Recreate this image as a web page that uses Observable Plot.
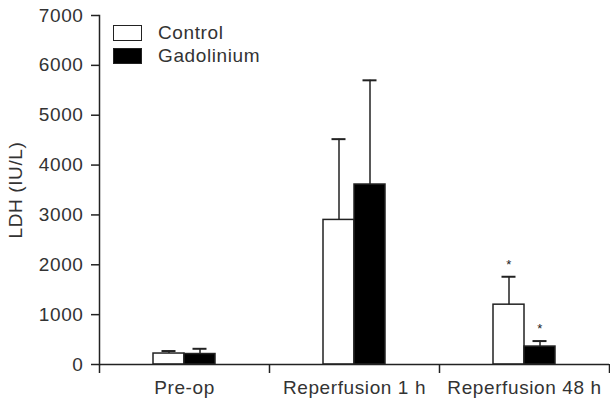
<!DOCTYPE html>
<html><head><meta charset="utf-8">
<script src="https://cdn.jsdelivr.net/npm/d3@7"></script>
<script src="https://cdn.jsdelivr.net/npm/@observablehq/plot@0.6"></script>
<style>
body{margin:0;background:#fff;}
#wrap{position:relative;width:610px;height:405px;font-family:"Liberation Sans",Arial,sans-serif;}
.legend{position:absolute;left:113px;top:21px;font-size:19px;letter-spacing:0.6px;color:#333;line-height:1;}
.legend .row{display:flex;align-items:center;height:23px;}
.sw{box-sizing:border-box;width:29px;height:16px;border:1.5px solid #222;margin-right:16px;}
</style></head><body><div id="wrap"></div>
<script>
const categories = ["Pre-op", "Reperfusion 1 h", "Reperfusion 48 h"];
const groups = ["Control", "Gadolinium"];
const controlMean = [220, 2900, 1200];
const controlErr = [50, 1620, 560];
const controlStar = ["", "", "*"];
const gadoliniumMean = [210, 3610, 360];
const gadoliniumErr = [105, 2090, 110];
const gadoliniumStar = ["", "", "*"];
const yTicks = [0, 1000, 2000, 3000, 4000, 5000, 6000, 7000];
const yLabel = "LDH (IU/L)";

const W = 610, H = 405, mL = 99, mR = 1, mT = 15, mB = 41;
const step = (W - mL - mR) / categories.length;
const half = step / 2;
const barW = 31, capW = 14;

const control = categories.map((c, i) => ({cat: c, group: groups[0], mean: controlMean[i], err: controlErr[i], star: controlStar[i]}));
const gado = categories.map((c, i) => ({cat: c, group: groups[1], mean: gadoliniumMean[i], err: gadoliniumErr[i], star: gadoliniumStar[i]}));

const ink = "#222";
const chart = Plot.plot({
  width: W, height: H,
  marginLeft: mL, marginRight: mR, marginTop: mT, marginBottom: mB,
  style: {fontFamily: "'Liberation Sans', Arial, sans-serif", fontSize: "19px", color: "#333", letterSpacing: "0.6px", background: "#fff"},
  x: {domain: categories, paddingInner: 0, paddingOuter: 0},
  y: {domain: [0, 7000]},
  marks: [
    Plot.barY(control, {x: "cat", y: "mean", fill: "white", stroke: ink, strokeWidth: 1.5, insetLeft: half - barW, insetRight: half}),
    Plot.barY(gado, {x: "cat", y: "mean", fill: "black", stroke: ink, strokeWidth: 1.5, insetLeft: half, insetRight: half - barW}),
    Plot.ruleX(control, {x: "cat", y1: "mean", y2: d => d.mean + d.err, dx: -barW / 2, stroke: ink, strokeWidth: 1.5}),
    Plot.ruleX(gado, {x: "cat", y1: "mean", y2: d => d.mean + d.err, dx: barW / 2, stroke: ink, strokeWidth: 1.5}),
    Plot.tickY(control, {x: "cat", y: d => d.mean + d.err, stroke: ink, strokeWidth: 2, insetLeft: half - barW / 2 - capW / 2, insetRight: half + barW / 2 - capW / 2}),
    Plot.tickY(gado, {x: "cat", y: d => d.mean + d.err, stroke: ink, strokeWidth: 2, insetLeft: half + barW / 2 - capW / 2, insetRight: half - barW / 2 - capW / 2}),
    Plot.text(control.filter(d => d.star), {x: "cat", y: d => d.mean + d.err, text: "star", dx: -barW / 2, dy: -12, fontSize: 13, fill: ink}),
    Plot.text(gado.filter(d => d.star), {x: "cat", y: d => d.mean + d.err, text: "star", dx: barW / 2, dy: -12, fontSize: 13, fill: ink}),
    Plot.ruleY([0], {stroke: ink, strokeWidth: 1.5}),
    Plot.frame({anchor: "left", stroke: ink, strokeWidth: 1.5}),
    Plot.ruleX(categories, {x: d => d, dx: -half, y1: 0, y2: 0, insetBottom: -9, stroke: ink, strokeWidth: 1.5}),
    Plot.ruleX(categories.slice(-1), {x: d => d, dx: half, y1: 0, y2: 0, insetBottom: -9, stroke: ink, strokeWidth: 1.5}),
    Plot.axisY({ticks: yTicks, tickFormat: d => String(d), tickSize: 8, tickPadding: 8, stroke: ink, strokeWidth: 1.5, label: yLabel, labelAnchor: "center", labelArrow: "none", labelOffset: 91}),
    Plot.axisX({tickSize: 0, tickPadding: 16, label: null})
  ]
});
const wrap = document.getElementById("wrap");
wrap.appendChild(chart);
const legend = document.createElement("div");
legend.className = "legend";
legend.innerHTML = groups.map((g, i) => `<div class="row"><span class="sw" style="background:${i ? "black" : "white"}"></span><span>${g}</span></div>`).join("");
wrap.appendChild(legend);
</script></body></html>
